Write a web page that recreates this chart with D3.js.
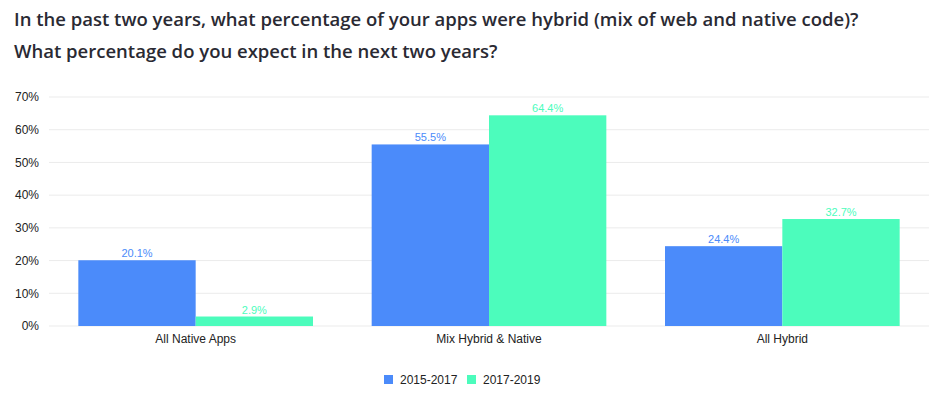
<!DOCTYPE html>
<html>
<head>
<meta charset="utf-8">
<script src="https://d3js.org/d3.v7.min.js"></script>
<style>
  body { margin: 0; background: #fff; }
  svg { display: block; }
</style>
</head>
<body>
<svg id="chart" width="940" height="394"></svg>
<script>
// data
const categories = ["All Native Apps", "Mix Hybrid & Native", "All Hybrid"];
const seriesNames = ["2015-2017", "2017-2019"];
const values2015 = [20.1, 55.5, 24.4];
const values2017 = [2.9, 64.4, 32.7];
const yTicks = [0, 10, 20, 30, 40, 50, 60, 70];
const colors = ["#4b8bfa", "#4cfcbc"];
const titleLines = [
  "In the past two years, what percentage of your apps were hybrid (mix of web and native code)?",
  "What percentage do you expect in the next two years?"
];

const svg = d3.select("#chart");
const margin = { top: 97, right: 11, bottom: 68, left: 49 };
const width = 940 - margin.left - margin.right;
const height = 394 - margin.top - margin.bottom;

// title
svg.selectAll(".title")
  .data(titleLines)
  .enter().append("text")
  .attr("class", "title")
  .attr("x", 14)
  .attr("y", (d, i) => 26 + i * 32)
  .attr("font-family", "'Open Sans', sans-serif")
  .attr("font-weight", 600)
  .attr("font-size", "18.5px")
  .attr("fill", "#2a2a33")
  .text(d => d);

const g = svg.append("g").attr("transform", `translate(${margin.left},${margin.top})`);

const x0 = d3.scaleBand().domain(categories).range([0, width]).paddingInner(0.2).paddingOuter(0.1);
const x1 = d3.scaleBand().domain(seriesNames).range([0, x0.bandwidth()]);
const y = d3.scaleLinear().domain([0, 70]).range([height, 0]);

// grid
g.selectAll(".grid")
  .data(yTicks)
  .enter().append("line")
  .attr("x1", 0).attr("x2", width)
  .attr("y1", d => y(d)).attr("y2", d => y(d))
  .attr("stroke", "#ebebeb")
  .attr("stroke-width", 1);

// y axis labels
const yAxis = g.append("g")
  .call(d3.axisLeft(y).tickValues(yTicks).tickFormat(d => d + "%").tickSize(0).tickPadding(10));
yAxis.select(".domain").remove();
yAxis.selectAll("text")
  .attr("font-family", "'Liberation Sans', Arial, sans-serif")
  .attr("font-size", "12px")
  .attr("fill", "#222");

// bars
const rows = categories.map((c, i) => ({ cat: c, vals: [values2015[i], values2017[i]] }));
const groups = g.selectAll(".grp")
  .data(rows)
  .enter().append("g")
  .attr("transform", d => `translate(${x0(d.cat)},0)`);

const cells = groups.selectAll(".bar")
  .data(d => d.vals.map((v, j) => ({ name: seriesNames[j], v: v, c: colors[j] })))
  .enter();

cells.append("rect")
  .attr("x", d => x1(d.name))
  .attr("y", d => y(d.v))
  .attr("width", x1.bandwidth())
  .attr("height", d => height - y(d.v))
  .attr("fill", d => d.c);

cells.append("text")
  .attr("x", d => x1(d.name) + x1.bandwidth() / 2)
  .attr("y", d => y(d.v) - 3)
  .attr("text-anchor", "middle")
  .attr("font-family", "'Liberation Sans', Arial, sans-serif")
  .attr("font-size", "11px")
  .attr("fill", d => d.c)
  .text(d => d.v.toFixed(1) + "%");

// x axis labels
const xAxis = g.append("g")
  .attr("transform", `translate(0,${height})`)
  .call(d3.axisBottom(x0).tickSize(0).tickPadding(8));
xAxis.select(".domain").remove();
xAxis.selectAll("text")
  .attr("font-family", "'Liberation Sans', Arial, sans-serif")
  .attr("font-size", "12px")
  .attr("fill", "#222");

// legend
const legend = svg.append("g").attr("transform", "translate(384,375)");
const legX = [0, 83];
seriesNames.forEach((s, i) => {
  legend.append("rect")
    .attr("x", legX[i]).attr("y", 0)
    .attr("width", 9).attr("height", 9)
    .attr("fill", colors[i]);
  legend.append("text")
    .attr("x", legX[i] + 16).attr("y", 9)
    .attr("font-family", "'Liberation Sans', Arial, sans-serif")
    .attr("font-size", "12px")
    .attr("fill", "#222")
    .text(s);
});
</script>
</body>
</html>
